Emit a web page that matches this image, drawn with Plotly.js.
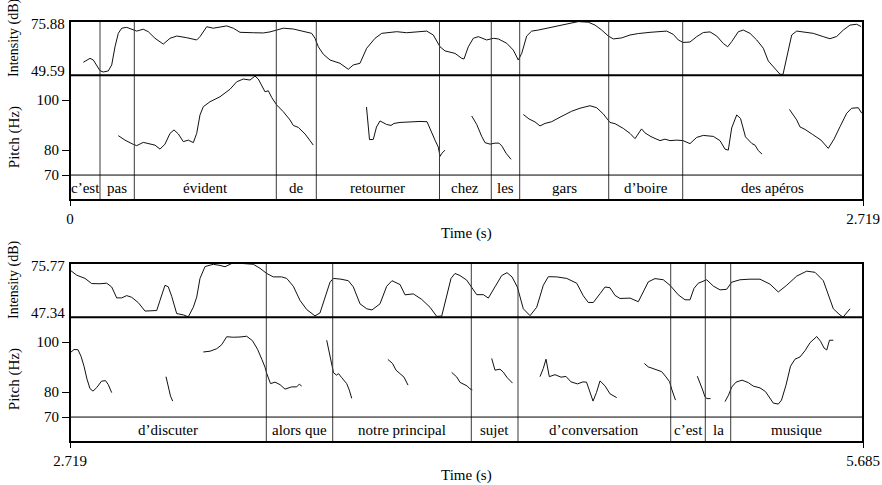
<!DOCTYPE html>
<html>
<head>
<meta charset="utf-8">
<script src="https://cdn.plot.ly/plotly-3.0.1.min.js"></script>
<style>html,body{margin:0;padding:0;background:#fff}</style>
</head>
<body>
<div id="chart" style="width:882px;height:485px"></div>
<script>
// ---- Utterance 1 (0 – 2.719 s) ----
const timeRangeTop = [0, 2.719];
const intensityRangeTop = [49.59, 75.88];
const wordsTop = ['c\u2019est', 'pas', '\u00e9vident', 'de', 'retourner', 'chez', 'les', 'gars', 'd\u2019boire', 'des ap\u00e9ros'];
const boundsTop = [0, 0.1029, 0.2205, 0.7074, 0.8445, 1.2669, 1.4445, 1.5419, 1.8471, 2.1008, 2.719];

const intensityTimeTop = [0.0456,0.0686,0.0799,0.1029,0.1142,0.1313,0.143,0.1543,0.1656,0.1773,
  0.1944,0.2116,0.2287,0.2513,0.2685,0.2914,0.3199,0.3429,0.3659,0.4001,
  0.4344,0.4457,0.4687,0.4913,0.5143,0.5373,0.5599,0.5829,0.6285,0.6628,
  0.6858,0.7087,0.7314,0.7656,0.7999,0.8287,0.8401,0.8514,0.8685,0.8915,
  0.9258,0.9542,0.9714,0.9943,1.0173,1.0458,1.0688,1.0972,1.1202,1.1545,
  1.1888,1.2231,1.2457,1.2687,1.2858,1.3201,1.3431,1.3509,1.3657,1.3828,
  1.4,1.4288,1.4514,1.4686,1.4974,1.52,1.5371,1.5488,1.5659,1.5831,
  1.6057,1.6571,1.7144,1.7428,1.7771,1.8001,1.8231,1.8457,1.8629,1.8917,
  1.9201,1.9486,1.9887,2.023,2.046,2.0686,2.0857,2.1018,2.1258,2.1488,
  2.1714,2.1944,2.2174,2.24,2.2551,2.2688,2.2915,2.3086,2.3316,2.3545,
  2.3772,2.3943,2.4173,2.4344,2.4447,2.4574,2.4636,2.4745,2.4917,2.5202,
  2.5486,2.5829,2.6059,2.6289,2.6515,2.6744,2.6974,2.7121];
const intensityDbTop = [55.9,57.8,57.0,51.8,51.2,51.7,54.6,63.4,69.9,72.4,
  72.8,71.9,71.0,71.9,70.7,67.5,64.7,67.5,68.6,67.8,
  66.7,68.3,73.1,72.4,72.8,73.5,72.4,70.4,70.2,70.1,
  70.6,71.5,72.4,72.0,71.0,69.9,67.5,63.4,59.8,57.0,
  55.4,52.5,54.6,55.4,62.7,67.5,69.9,70.2,70.7,70.2,
  70.7,71.0,69.1,63.4,61.4,60.2,57.8,57.5,63.4,67.5,
  68.3,66.7,67.5,67.2,65.1,61.8,57.0,60.2,68.6,71.0,
  71.5,73.1,74.8,75.6,75.3,73.9,71.5,68.6,67.2,67.7,
  69.1,69.8,70.4,70.7,71.0,69.4,66.7,65.5,65.7,68.3,
  70.3,70.6,68.6,65.0,63.4,65.9,70.7,71.5,69.9,66.7,
  62.7,56.5,52.6,50.1,50.0,58.9,62.7,69.1,71.0,70.3,
  69.9,68.3,67.3,68.4,71.5,73.9,74.3,73.2];

// voiced stretches are separated by null (unvoiced)
const pitchTimeTop = [0.1656,0.1886,0.217,0.2287,0.2513,0.2743,0.2914,0.3086,0.3257,0.3429,
  0.3566,0.3713,0.3885,0.4056,0.4228,0.4344,0.4457,0.4571,0.48,0.5143,
  0.5486,0.5716,0.5942,0.6172,0.6343,0.6456,0.6583,0.6686,0.68,0.6916,
  0.7087,0.7314,0.7543,0.7656,0.7828,0.8058,0.8229,0.8342, null,
  1.0166,1.0269,1.04,1.0509,1.0629,1.0852,1.1007,1.1109,1.1315,1.1658,
  1.2001,1.2241,1.2361,1.2515,1.2628,1.2687,1.2755,1.2858, null,
  1.3773,1.3945,1.4116,1.423,1.4401,1.4573,1.4709,1.4812,1.4949,1.5121, null,
  1.5543,1.5738,1.5944,1.6115,1.6287,1.6516,1.6801,1.7202,1.7487,1.7829,
  1.8059,1.8285,1.8515,1.8687,1.8971,1.9201,1.9373,1.9493,1.9596,1.9716,
  1.9921,2.023,2.0401,2.0573,2.0802,2.1018,2.1258,2.1488,2.1714,2.2057,
  2.2287,2.2458,2.2571,2.2688,2.286,2.299,2.3161,2.3384,2.3487,2.3601,2.3727, null,
  2.467,2.4917,2.503,2.5202,2.5459,2.575,2.6,2.6196,2.6402,2.6632,2.6803,2.7029,2.7146];
const pitchHzTop = [85.8,84.0,82.3,81.8,83.1,82.4,82.0,80.4,82.4,86.7,
  88.1,86.5,83.4,84.0,83.0,86.7,94.1,97.4,99.4,101.4,
  104.4,107.4,108.5,108.1,109.7,108.5,105.3,103.4,103.8,101.1,
  98.1,95.4,92.1,89.9,89.1,86.5,83.8,82.0, null,
  97.3,84.2,84.3,89.3,91.7,90.3,89.9,90.7,91.1,91.4,
  91.5,91.4,87.9,84.0,81.2,77.5,78.8,80.0, null,
  93.7,90.3,85.5,83.0,82.4,82.8,82.8,81.6,78.8,76.3, null,
  94.3,92.5,91.3,89.7,90.7,91.4,93.2,95.6,96.8,97.8,
  97.0,94.5,91.1,90.6,88.7,86.7,84.6,86.5,88.5,86.9,
  85.4,83.8,84.4,83.8,84.0,83.8,82.6,85.1,85.9,85.5,
  83.8,80.4,80.0,88.9,94.1,92.7,85.3,82.6,82.0,79.8,78.4, null,
  96.3,92.1,89.3,88.3,86.3,84.0,80.7,84.4,89.4,94.8,96.8,97.0,94.8];

// ---- Utterance 2 (2.719 – 5.685 s) ----
const timeRangeBottom = [2.719, 5.685];
const intensityRangeBottom = [47.34, 75.77];
const wordsBottom = ['d\u2019discuter', 'alors que', 'notre principal', 'sujet', 'd\u2019conversation', 'c\u2019est', 'la', 'musique'];
const boundsBottom = [2.719, 3.4532, 3.7016, 4.22, 4.3946, 4.9658, 5.0952, 5.1902, 5.685];

const intensityTimeBottom = [2.719,2.744,2.7751,2.8002,2.8312,2.8563,2.875,2.8937,2.9124,2.9311,
  2.9498,2.9745,2.9995,3.0182,3.0433,3.0556,3.0743,3.0867,3.0994,3.1181,
  3.1428,3.1615,3.1802,3.1929,3.2052,3.224,3.255,3.2801,3.2988,3.3238,
  3.3548,3.4046,3.4296,3.4547,3.4794,3.5108,3.5295,3.5542,3.5792,3.6043,
  3.6353,3.654,3.6727,3.6915,3.7038,3.7326,3.7599,3.7786,3.8037,3.8287,
  3.8485,3.8785,3.9035,3.9233,3.9533,3.972,4.0031,4.0345,4.0655,4.0906,
  4.1093,4.128,4.1441,4.159,4.1777,4.2028,4.2215,4.2402,4.2649,4.2836,
  4.3086,4.3337,4.3535,4.3722,4.3921,4.4145,4.4396,4.4646,4.4893,4.508,
  4.5394,4.5768,4.6142,4.6389,4.6576,4.6763,4.7014,4.7201,4.7388,4.7575,
  4.7762,4.8136,4.8446,4.8633,4.882,4.9071,4.9381,4.9632,4.9942,5.0193,
  5.038,5.0529,5.069,5.1004,5.1251,5.1501,5.1752,5.1939,5.2249,5.2623,
  5.2997,5.3371,5.3682,5.3996,5.437,5.4744,5.5055,5.5366,5.5553,5.574,
  5.5953,5.6103,5.6365];
const intensityDbBottom = [72.1,69.4,67.7,65.0,64.9,65.2,63.2,57.5,57.5,58.7,
  57.8,55.0,50.6,50.6,50.9,56.2,64.1,63.3,58.3,49.3,
  48.6,47.6,52.6,57.9,67.7,73.9,75.1,74.5,73.8,75.5,
  75.6,75.1,73.0,70.3,68.5,68.5,67.7,63.6,56.2,51.4,
  48.1,49.6,57.8,65.7,67.7,67.3,66.5,63.3,54.4,51.8,
  51.2,54.4,63.6,66.5,64.5,59.1,59.6,56.7,52.6,47.8,
  48.0,58.3,67.7,70.3,69.2,66.8,63.1,59.2,59.2,57.4,
  63.3,69.2,70.7,68.5,63.2,51.8,48.2,52.6,64.1,68.6,
  68.5,67.7,65.2,58.6,55.1,55.1,59.7,63.2,62.8,58.8,
  57.2,57.4,55.5,60.6,65.9,67.6,67.0,64.1,59.1,56.5,
  56.5,62.5,65.2,67.0,63.7,61.7,62.0,65.7,67.0,67.3,
  67.3,64.7,60.6,64.1,68.9,71.5,70.9,66.5,58.6,51.8,
  49.0,47.4,51.8];

const pitchTimeBottom = [2.719,2.734,2.7489,2.7601,2.7714,2.7826,2.7938,2.805,2.8189,2.8368,2.8518,2.8622,2.8749, null,
  3.0781,3.0867,3.0949,3.1031, null,
  3.2176,3.2426,3.2677,3.2864,3.3051,3.3298,3.3548,3.3799,3.4016,3.4203,
  3.4371,3.4484,3.4558,3.4689,3.4858,3.5045,3.5232,3.5482,3.5669,3.5766,3.5856, null,
  3.6791,3.6915,3.7046,3.7158,3.7233,3.7353,3.7539,3.7637,3.7727, null,
  3.908,3.9253,3.9384,3.9507,3.9683,3.9832, null,
  4.1466,4.1653,4.1777,4.19,4.2039,4.2151,4.2237, null,
  4.2963,4.3086,4.3273,4.3397,4.3535,4.3741, null,
  4.4769,4.4893,4.4994,4.505,4.5117,4.533,4.5555,4.5742,4.5929,4.6172,
  4.6378,4.6509,4.6602,4.6752,4.6883,4.7014,4.7201,4.7388,4.7638, null,
  4.867,4.8819,4.8958,4.9134,4.9321,4.9482,4.9613,4.9706,4.9837, null,
  5.0653,5.0754,5.0855,5.0941,5.1016,5.1146, null,
  5.1689,5.182,5.1939,5.21,5.2325,5.256,5.2747,5.2998,5.3203,5.3334,
  5.3495,5.3682,5.3802,5.397,5.4139,5.4307,5.4494,5.4681,5.4868,5.5119,
  5.5261,5.5392,5.5493,5.5597,5.574];
const pitchHzBottom = [95.7,97.1,97.0,94.4,90.4,85.2,81.4,80.4,81.8,84.4,84.6,83.0,79.8, null,
  86.2,81.6,78.4,76.4, null,
  96.1,96.4,97.4,99.0,102.2,102.0,102.1,102.4,100.6,97.2,
  93.0,90.0,87.2,83.4,84.0,83.0,81.2,82.1,82.1,83.2,82.4, null,
  100.8,94.8,87.8,86.8,87.4,85.8,83.4,80.8,77.5, null,
  93.1,91.5,88.8,87.5,86.0,82.8, null,
  87.9,86.1,83.9,83.1,82.5,81.3,80.9, null,
  93.5,88.8,89.2,88.0,85.9,83.6, null,
  86.2,89.5,93.2,90.4,86.2,87.0,86.0,86.3,84.1,83.3,
  84.1,84.0,80.8,76.4,79.9,84.5,82.5,79.3,77.8, null,
  91.5,90.1,89.6,89.0,88.2,86.1,84.2,80.8,76.8, null,
  86.4,83.8,80.8,78.1,77.4,77.4, null,
  76.2,78.8,82.0,84.0,84.8,83.8,82.4,81.7,80.2,78.0,
  75.6,75.2,76.8,82.8,90.4,93.2,94.1,96.6,99.8,102.3,
  100.4,97.7,96.9,100.8,100.8];

// shared pitch scale: 60–70 Hz band holds the word tier
const pitchRange = [60, 110];
const pitchTicks = [70, 80, 100];
const tierFloor = 70;

// ---- layout geometry (pixels from the top of the page) ----
const W = 882, H = 485;
const LEFT = 70, RIGHT = 863;
const panels = [
  {top: 21, split: 75.3, bottom: 200},
  {top: 263, split: 317.3, bottom: 442}
];
const fy = px => 1 - px / H;
const FONT = '"Liberation Serif", "Times New Roman", Times, serif';
const INK = '#000';

const baseAxis = {showgrid: false, zeroline: false, showline: false, fixedrange: true};

function xAxis(range, anchor) {
  return Object.assign({}, baseAxis, {
    domain: [LEFT / W, RIGHT / W], range: range, anchor: anchor,
    tickmode: 'array', tickvals: range, ticktext: range.map(v => String(v)),
    ticks: 'outside', ticklen: 5, tickwidth: 1, tickcolor: INK,
    tickfont: {family: FONT, size: 15, color: INK}
  });
}
function intensityAxis(p, range, anchor) {
  return Object.assign({}, baseAxis, {
    domain: [fy(p.split), fy(p.top)], range: range, anchor: anchor,
    showticklabels: false, ticks: ''
  });
}
function pitchAxis(p, anchor) {
  return Object.assign({}, baseAxis, {
    domain: [fy(p.bottom), fy(p.split)], range: pitchRange, anchor: anchor,
    tickmode: 'array', tickvals: pitchTicks, ticktext: pitchTicks.map(String),
    ticks: 'outside', ticklen: 7, tickwidth: 1, tickcolor: INK,
    tickfont: {family: FONT, size: 15, color: INK}
  });
}

const curve = {color: '#111', width: 1};
const traces = [
  {x: intensityTimeTop, y: intensityDbTop, xaxis: 'x', yaxis: 'y', mode: 'lines', line: curve},
  {x: pitchTimeTop, y: pitchHzTop, xaxis: 'x', yaxis: 'y2', mode: 'lines', line: curve, connectgaps: false},
  {x: intensityTimeBottom, y: intensityDbBottom, xaxis: 'x2', yaxis: 'y3', mode: 'lines', line: curve},
  {x: pitchTimeBottom, y: pitchHzBottom, xaxis: 'x2', yaxis: 'y4', mode: 'lines', line: curve, connectgaps: false}
];

const shapes = [];
const annotations = [];
const tiers = [
  {p: panels[0], words: wordsTop, bounds: boundsTop, xr: 'x', yi: 'y', yp: 'y2', iRange: intensityRangeTop},
  {p: panels[1], words: wordsBottom, bounds: boundsBottom, xr: 'x2', yi: 'y3', yp: 'y4', iRange: intensityRangeBottom}
];

tiers.forEach(t => {
  const p = t.p;
  // word boundaries across the whole panel
  t.bounds.slice(1, -1).forEach(b => shapes.push({
    type: 'line', xref: t.xr, yref: 'paper', x0: b, x1: b, y0: fy(p.bottom), y1: fy(p.top),
    line: {color: '#3a3a3a', width: 1}
  }));
  // tier top line at 70 Hz
  shapes.push({type: 'line', xref: 'paper', yref: t.yp, x0: LEFT / W, x1: RIGHT / W,
    y0: tierFloor, y1: tierFloor, line: {color: INK, width: 1}});
  // intensity / pitch separator
  shapes.push({type: 'line', xref: 'paper', yref: 'paper', x0: LEFT / W, x1: RIGHT / W,
    y0: fy(p.split), y1: fy(p.split), line: {color: INK, width: 2}});
  // outer frame
  shapes.push({type: 'rect', xref: 'paper', yref: 'paper', x0: LEFT / W, x1: RIGHT / W,
    y0: fy(p.bottom), y1: fy(p.top), line: {color: INK, width: 2}, fillcolor: 'rgba(0,0,0,0)'});

  // word labels centred in their intervals
  t.words.forEach((w, i) => annotations.push({
    xref: t.xr, yref: t.yp, x: (t.bounds[i] + t.bounds[i + 1]) / 2, y: (pitchRange[0] + tierFloor) / 2,
    text: w, showarrow: false, xanchor: 'center', yanchor: 'middle',
    font: {family: FONT, size: 15, color: INK}
  }));

  // intensity extremes
  [[t.iRange[1], -3], [t.iRange[0], 4]].forEach(([v, dy]) => annotations.push({
    xref: 'paper', yref: t.yi, x: LEFT / W, y: v, xshift: -3, yshift: dy,
    text: v.toFixed(2), showarrow: false, xanchor: 'right', yanchor: 'middle',
    font: {family: FONT, size: 15, color: INK}
  }));

  // axis titles
  annotations.push({xref: 'paper', yref: 'paper', x: 14 / W, y: fy(p.top + 17), text: 'Intensity (dB)',
    textangle: -90, showarrow: false, xanchor: 'center', yanchor: 'middle',
    font: {family: FONT, size: 14, color: INK}});
  annotations.push({xref: 'paper', yref: 'paper', x: 14.5 / W, y: fy((p.split + p.bottom) / 2), text: 'Pitch (Hz)',
    textangle: -90, showarrow: false, xanchor: 'center', yanchor: 'middle',
    font: {family: FONT, size: 15, color: INK}});
  annotations.push({xref: 'paper', yref: 'paper', x: (LEFT + RIGHT) / 2 / W, y: fy(p.bottom + 33), text: 'Time (s)',
    showarrow: false, xanchor: 'center', yanchor: 'middle',
    font: {family: FONT, size: 15, color: INK}});
});

const layout = {
  width: W, height: H,
  margin: {l: 0, r: 0, t: 0, b: 0},
  paper_bgcolor: '#fff', plot_bgcolor: '#fff',
  showlegend: false,
  font: {family: FONT, color: INK},
  xaxis: xAxis(timeRangeTop, 'y2'),
  yaxis: intensityAxis(panels[0], intensityRangeTop, 'x'),
  yaxis2: pitchAxis(panels[0], 'x'),
  xaxis2: xAxis(timeRangeBottom, 'y4'),
  yaxis3: intensityAxis(panels[1], intensityRangeBottom, 'x2'),
  yaxis4: pitchAxis(panels[1], 'x2'),
  shapes: shapes,
  annotations: annotations
};

Plotly.newPlot('chart', traces, layout, {displayModeBar: false, staticPlot: true});
</script>
</body>
</html>
